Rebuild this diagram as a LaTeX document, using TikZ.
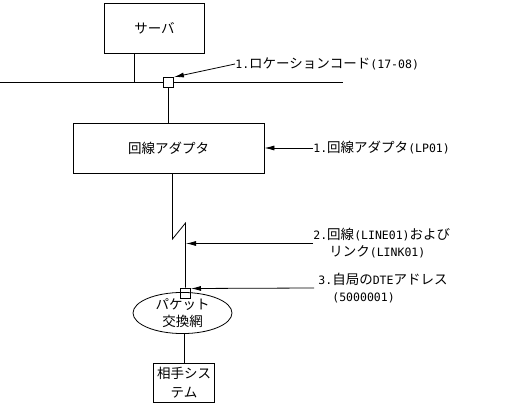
\documentclass[tikz,border=0pt]{standalone}
\usepackage{fontspec}
\setmainfont{Noto Sans CJK JP}
\newfontfamily\latfont{DejaVu Sans Mono}
\newcommand{\lat}[1]{{\latfont\fontsize{11.5}{17}\selectfont #1}}
\usetikzlibrary{arrows.meta,shapes.geometric}
\tikzset{
  box/.style={draw, inner sep=0pt, align=center, font=\fontsize{13.5}{19}\selectfont},
  port/.style={draw, fill=white, minimum size=10pt, inner sep=0pt},
  lbl/.style={anchor=west, inner sep=0pt, align=left, font=\fontsize{13.5}{17}\selectfont},
  pointer/.style={-{Latex[length=10pt,width=5pt]}},
}

\begin{document}
\begin{tikzpicture}[x=1pt,y=-1pt,line width=0.8pt]
			\useasboundingbox (0,0) rectangle (517,406);
			% server and bus
			\node[box, minimum width=100pt, minimum height=50pt] (server) at (154.5,28.5) {サーバ};
			\coordinate (busL) at (0,82.5);
			\coordinate (busR) at (343,82.5);
			\coordinate (srvbus) at (134.5,82.5);
			\draw (busL) -- (busR);
			\draw (server.south -| srvbus) -- (srvbus);
			\node[port] (loc) at (168.5,82.5) {};
			% line adapter
			\node[box, minimum width=191pt, minimum height=50pt] (adapter) at (168.5,148) {回線アダプタ};
			\draw (loc.south) -- (adapter.north -| loc);
			% line with break
			\coordinate (brkA) at (172.5,239);
			\coordinate (brkB) at (185.5,223);
			\node[port] (dte) at (185.5,293) {};
			\draw (adapter.south -| brkA) -- (brkA) -- (brkB) -- (dte.north);
			% packet network and partner
			\node[ellipse, draw, minimum width=99pt, minimum height=32pt, inner sep=0pt, align=center,
			      font=\fontsize{13.5}{17}\selectfont] (net) at (182.5,313) {パケット\\交換網};
			\node[box, minimum width=61pt, minimum height=39pt] (peer) at (184,382.5) {相手シス\\テム};
			\draw (net.south -| peer) -- (peer.north);
			% labels
			\node[lbl] (t1) at (235,64) {\lat{1.}ロケーションコード\lat{(17-08)}};
			\node[lbl] (t2) at (313,148) {\lat{1.}回線アダプタ\lat{(LP01)}};
			\node[lbl] (t3) at (313,243.5) {\lat{2.}回線\lat{(LINE01)}および\\\hspace*{16pt}リンク\lat{(LINK01)}};
			\node[lbl] (t4) at (318,288) {\lat{3.}自局の\lat{DTE}アドレス\\\hspace*{14pt}\lat{(5000001)}};
			% pointers
			\draw[pointer] (t1.west) -- (loc.north east);
			\draw[pointer] (t2.west) -- (adapter.east);
			\coordinate (a2) at (186,243.5);
			\draw[pointer] (t3.west) -- (a2);
			\coordinate (a3) at (191,288.5);
			\draw[pointer] ([xshift=-4pt]t4.west) -- (a3);
		\end{tikzpicture}
\end{document}
